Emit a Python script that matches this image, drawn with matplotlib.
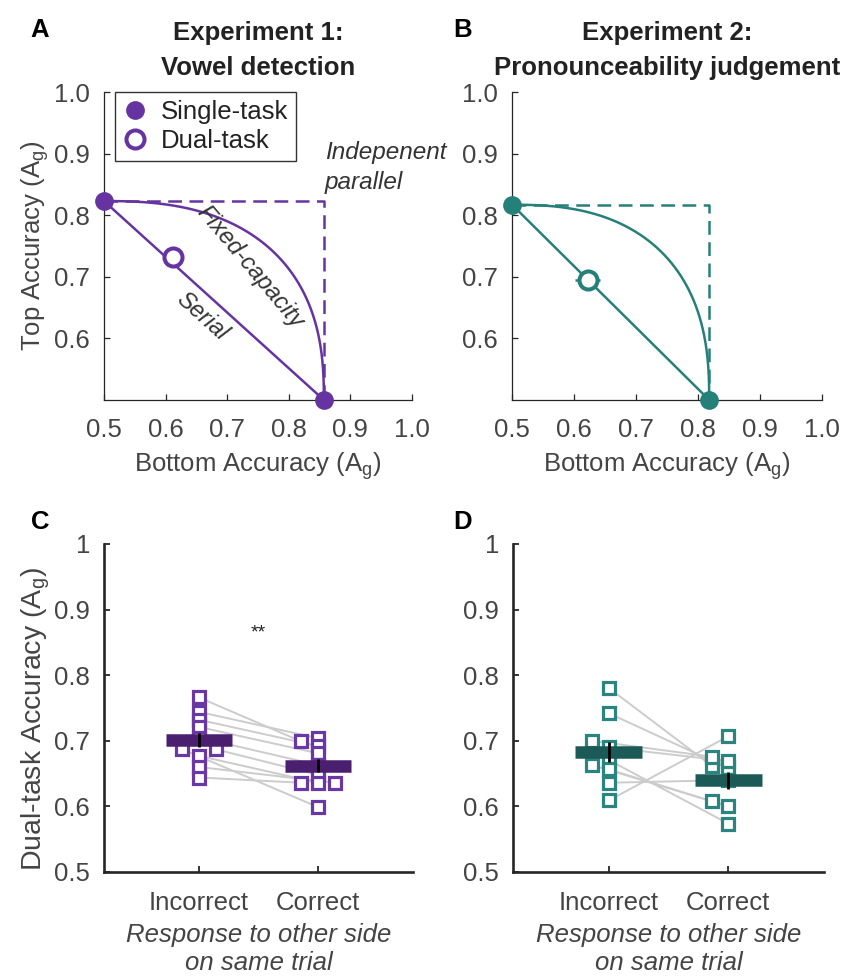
import numpy as np
import matplotlib
matplotlib.use("Agg")
import matplotlib.pyplot as plt
from matplotlib.lines import Line2D

plt.rcParams['font.family'] = ['Liberation Sans', 'DejaVu Sans']
plt.rcParams['mathtext.fontset'] = 'custom'
plt.rcParams['mathtext.rm'] = 'Liberation Sans'
plt.rcParams['mathtext.it'] = 'Liberation Sans:italic'

purple = '#6634a0'
teal = '#26807a'
dark_purple = '#4a1f70'
dark_teal = '#1c5a57'
text_grey = '#444444'
axis_col = '#262626'

# Panels A/B: single-task accuracy on each side and dual-task mean (+/- SEM)
single_top = [0.823, 0.817]
single_bottom = [0.857, 0.818]
dual_bottom = [0.612, 0.622]
dual_top = [0.732, 0.694]
dual_bottom_err = [0.008, 0.020]
dual_top_err = [0.006, 0.005]
capacity_exponent = 2.5  # shape of the fixed-capacity frontier

# Panels C/D: dual-task accuracy split by the response to the other side
categories = ['Incorrect', 'Correct']
c_incorrect = [0.766, 0.744, 0.732, 0.721, 0.705, 0.687, 0.687, 0.677, 0.660, 0.644]
c_correct = [0.699, 0.704, 0.692, 0.681, 0.663, 0.599, 0.648, 0.636, 0.636, 0.636]
c_means = [0.701, 0.662]
c_sems = [0.011, 0.010]
d_incorrect = [0.7805, 0.742, 0.700, 0.690, 0.6707, 0.663, 0.6565, 0.636, 0.609]
d_correct = [0.662, 0.658, 0.6758, 0.669, 0.5737, 0.608, 0.600, 0.640, 0.7068]
d_means = [0.683, 0.640]
d_sems = [0.015, 0.013]

FS = 18.5

fig = plt.figure(figsize=(8.48, 9.77), dpi=100)
axA = fig.add_axes([0.1226, 0.5906, 0.3632, 0.3152])
axB = fig.add_axes([0.6038, 0.5906, 0.3656, 0.3152])
axC = fig.add_axes([0.1226, 0.1075, 0.3644, 0.3357])
axD = fig.add_axes([0.6050, 0.1075, 0.3667, 0.3357])


def roc_panel(ax, i, color, title):
    t, b = single_top[i], single_bottom[i]
    # independent parallel
    ax.plot([0.5, b, b], [t, t, 0.5], color=color, lw=1.8, dashes=(5.5, 3), zorder=2)
    # fixed capacity
    th = np.linspace(0, np.pi / 2, 300)
    p = capacity_exponent
    ax.plot(0.5 + (b - 0.5) * np.cos(th) ** (2 / p),
            0.5 + (t - 0.5) * np.sin(th) ** (2 / p), color=color, lw=1.8, zorder=2)
    # serial
    ax.plot([0.5, b], [t, 0.5], color=color, lw=1.8, zorder=2)
    ax.plot([0.5, b], [t, 0.5], 'o', color=color, ms=13.5, mew=0, ls='none',
            clip_on=False, zorder=5)
    ax.errorbar(dual_bottom[i], dual_top[i], xerr=dual_bottom_err[i], yerr=dual_top_err[i],
                fmt='o', mfc='white', mec=color, ms=13, mew=2.9, ecolor=color,
                elinewidth=1.8, capsize=0, zorder=6)
    ax.set_xlim(0.5, 1.0)
    ax.set_ylim(0.5, 1.0)
    ax.set_xticks([0.5, 0.6, 0.7, 0.8, 0.9, 1.0])
    ax.set_yticks([0.6, 0.7, 0.8, 0.9, 1.0])
    ax.xaxis.set_major_formatter(plt.FormatStrFormatter('%.1f'))
    ax.yaxis.set_major_formatter(plt.FormatStrFormatter('%.1f'))
    for s in ['top', 'right']:
        ax.spines[s].set_visible(False)
    for s in ['left', 'bottom']:
        ax.spines[s].set_linewidth(0.9)
        ax.spines[s].set_color(axis_col)
    ax.tick_params(direction='in', length=4, width=0.9, color=axis_col,
                   labelsize=FS, labelcolor=text_grey, pad=10)
    ax.tick_params(axis='x', pad=13)
    ax.set_xlabel(r'Bottom Accuracy (A$_\mathregular{g}$)', fontsize=FS, color=text_grey)
    ax.xaxis.set_label_coords(0.5, -0.165)
    ax.set_title(title, fontsize=FS, fontweight='bold', color='#222222',
                 linespacing=1.62, pad=12)


def swarm(vals, thr=0.0105):
    vals = np.asarray(vals)
    offs = np.zeros(len(vals))
    placed = []
    for i in np.argsort(vals):
        for k in [0, -1, 1, -2, 2]:
            if all(abs(vals[i] - v) >= thr for v, o in placed if o == k):
                offs[i] = k
                placed.append((vals[i], k))
                break
    return offs


def pair_panel(ax, inc, cor, means, sems, mcolor, bcolor):
    step = 0.14
    xi = 1 + swarm(inc) * step
    xc = 2 + swarm(cor) * step
    for a, b, xa, xb in zip(inc, cor, xi, xc):
        ax.plot([xa, xb], [a, b], color='#cccccc', lw=1.4, zorder=1)
    ax.plot(xi, inc, 's', mfc='white', mec=mcolor, ms=8, mew=2.3, ls='none', zorder=2)
    ax.plot(xc, cor, 's', mfc='white', mec=mcolor, ms=8, mew=2.3, ls='none', zorder=2)
    ax.hlines(means, [0.72, 1.72], [1.28, 2.28], colors=bcolor, lw=9, zorder=3)
    ax.errorbar([1, 2], means, yerr=sems, fmt='none', ecolor='black',
                elinewidth=2, capsize=0, zorder=4)
    ax.set_xlim(0.2, 2.8)
    ax.set_ylim(0.5, 1.0)
    ax.set_xticks([1, 2])
    ax.set_xticklabels(categories)
    ax.set_yticks([0.5, 0.6, 0.7, 0.8, 0.9, 1.0])
    ax.set_yticklabels(['0.5', '0.6', '0.7', '0.8', '0.9', '1'])
    for s in ['top', 'right']:
        ax.spines[s].set_visible(False)
    for s in ['left', 'bottom']:
        ax.spines[s].set_linewidth(1.9)
        ax.spines[s].set_color(axis_col)
    ax.tick_params(direction='in', length=4, width=1.3, color=axis_col,
                   labelsize=FS, labelcolor=text_grey, pad=10)
    ax.tick_params(axis='x', pad=14)
    ax.set_xlabel('Response to other side\non same trial', fontsize=FS, color=text_grey,
                  style='italic', linespacing=1.22)
    ax.xaxis.set_label_coords(0.5, -0.156)


roc_panel(axA, 0, purple, 'Experiment 1:\nVowel detection')
roc_panel(axB, 1, teal, 'Experiment 2:\nPronounceability judgement')
axA.set_ylabel(r'Top Accuracy (A$_\mathregular{g}$)', fontsize=FS, color=text_grey)
axA.yaxis.set_label_coords(-0.172, 0.5)

handles = [Line2D([], [], marker='o', ls='none', color=purple, ms=13.5, mew=0),
           Line2D([], [], marker='o', ls='none', mfc='white', mec=purple, ms=13, mew=2.9)]
leg = axA.legend(handles, ['Single-task', 'Dual-task'], loc='upper left',
                 bbox_to_anchor=(0.035, 1.0), borderaxespad=0,
                 fontsize=FS, frameon=True, fancybox=False, handlelength=1.0,
                 handletextpad=0.5, borderpad=0.3, labelspacing=0.2)
leg.get_frame().set_edgecolor('black')
leg.get_frame().set_linewidth(1.0)
for txt in leg.get_texts():
    txt.set_color('#222222')

axA.text(0.8585, 0.878, 'Indepenent\nparallel', fontsize=17.5, style='italic',
         color='#333333', ha='left', va='center', linespacing=1.4, clip_on=False)
axA.text(0.737, 0.716, 'Fixed-capacity', fontsize=17, style='italic', color='#333333',
         ha='center', va='center', rotation=-50)
axA.text(0.659, 0.635, 'Serial', fontsize=17, style='italic', color='#333333',
         ha='center', va='center', rotation=-42)

pair_panel(axC, c_incorrect, c_correct, c_means, c_sems, '#6a38a4', dark_purple)
pair_panel(axD, d_incorrect, d_correct, d_means, d_sems, '#2a8480', dark_teal)
axC.set_ylabel(r'Dual-task Accuracy (A$_\mathregular{g}$)', fontsize=20.5, color=text_grey)
axC.yaxis.set_label_coords(-0.168, 0.465)
axC.text(1.5, 0.864, '**', fontsize=14, ha='center', va='center', color='#222222')

for lab, x, y in [('A', 0.047, 0.969), ('B', 0.545, 0.969), ('C', 0.047, 0.466), ('D', 0.545, 0.466)]:
    fig.text(x, y, lab, fontsize=FS, fontweight='bold', ha='center', va='center', color='black')

fig.savefig('out.png', dpi=100)
